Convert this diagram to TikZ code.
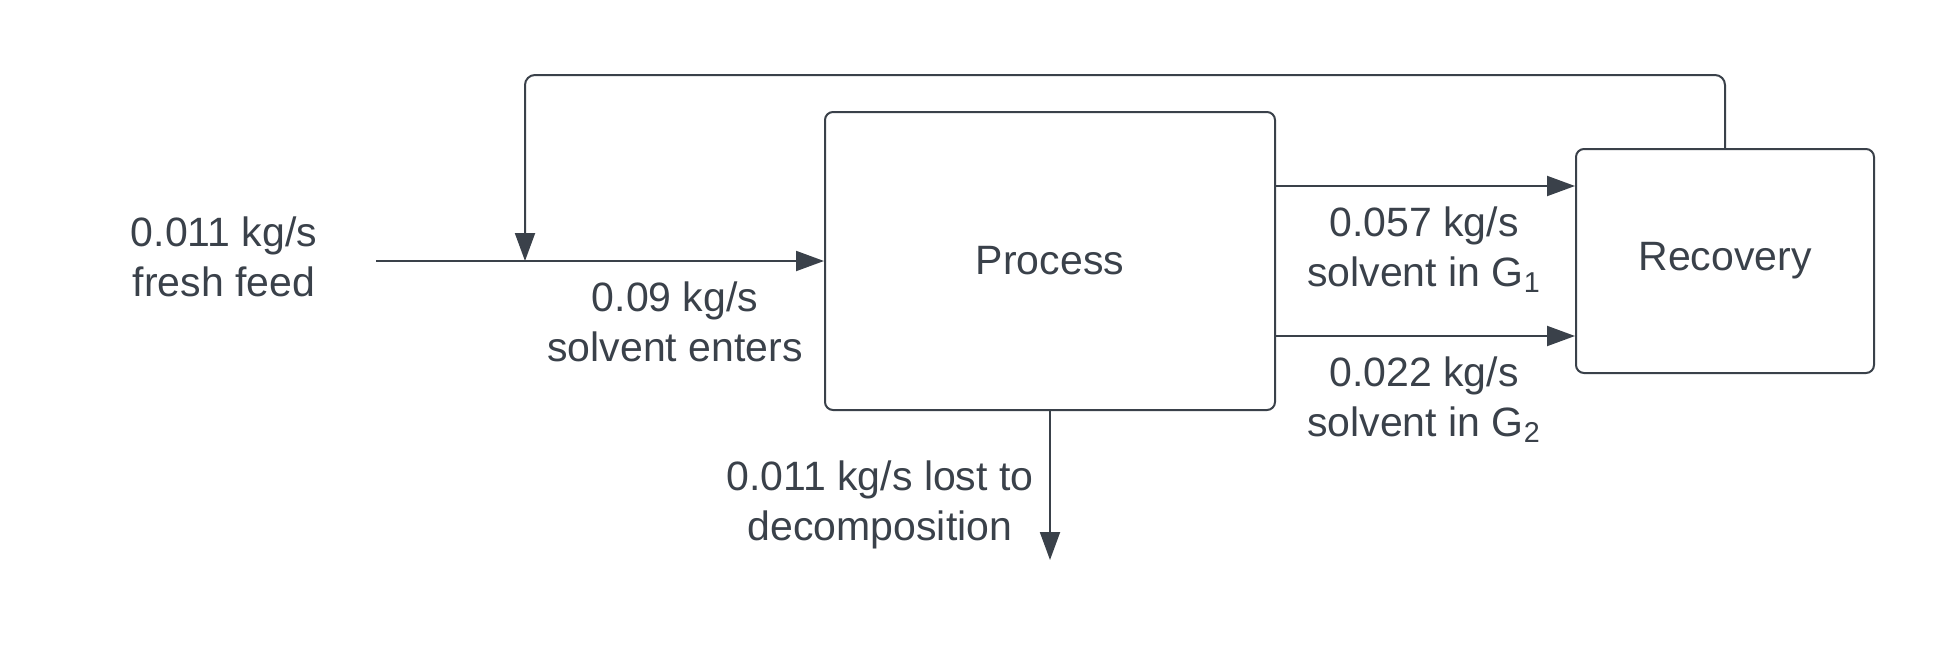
\documentclass[tikz,border=0pt]{standalone}
\usepackage{fontspec}
\setmainfont{Liberation Sans}
\usepackage{tikz}
\usetikzlibrary{arrows.meta,positioning,calc}

\definecolor{inkgray}{HTML}{3A414A}

\begin{document}
\begin{tikzpicture}[x=0.5pt, y=-0.5pt,
    box/.style={rectangle, draw=inkgray, line width=1pt, rounded corners=4pt, text=inkgray, font=\fontsize{20.5}{25}\selectfont},
    lbl/.style={align=center, text=inkgray, font=\fontsize{20.5}{25}\selectfont, inner sep=0pt},
    arrow/.style={-{Triangle[length=14pt, width=10pt]}, draw=inkgray, line width=1pt}]

    \useasboundingbox (0,0) rectangle (1950,669);

    % Units
    \node[box, minimum width=225pt, minimum height=149pt] (process) at (1050,261) {Process};
    \node[box, minimum width=149pt, minimum height=112pt] (recovery) at (1725,261) {Recovery};

    % Free ends
    \coordinate (feedin) at (376,261);
    \coordinate (loss) at (1050,560);
    \coordinate (loopleft) at (525,261);

    % Labels
    \node[lbl] (feedtxt) at (224,257) {0.011 kg/s\\fresh feed};
    \node[lbl] (entertxt) at (675,322) {0.09 kg/s\\solvent enters};
    \node[lbl] (gonetxt) at (1424,250) {0.057 kg/s\\solvent in G\textsubscript{1}};
    \node[lbl] (gtwotxt) at (1424,400) {0.022 kg/s\\solvent in G\textsubscript{2}};
    \node[lbl] (losstxt) at (880,505) {0.011 kg/s lost to\\decomposition};

    % Arrows
    \draw[arrow] (feedin) -- (process.west);
    \draw[arrow] ($(process.east)+(0,-75)$) -- ($(recovery.west)+(0,-75)$);
    \draw[arrow] ($(process.east)+(0,75)$) -- ($(recovery.west)+(0,75)$);
    \draw[arrow] (process.south) -- (loss);
    \draw[arrow, rounded corners=5pt] (recovery.north) |- (1200,75) -| (loopleft);

\end{tikzpicture}
\end{document}
